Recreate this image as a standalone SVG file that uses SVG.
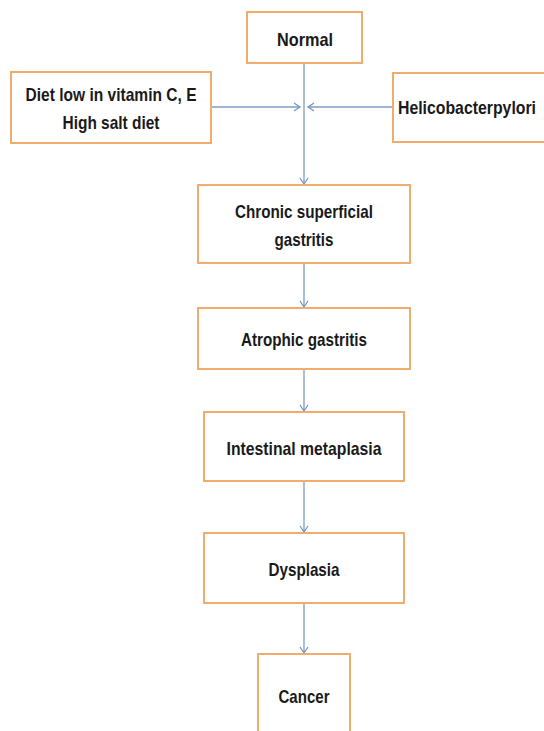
<svg xmlns="http://www.w3.org/2000/svg" width="544" height="731" viewBox="0 0 544 731">
  <defs>
    <marker id="arrow" markerWidth="10" markerHeight="10" refX="8" refY="5" orient="auto" markerUnits="userSpaceOnUse">
      <path d="M2,1 L8,5 L2,9" fill="none" stroke="#6f93bf" stroke-width="1.2"/>
    </marker>
  </defs>
  <style>
    .box { fill: #ffffff; stroke: #f0ac6c; stroke-width: 2; }
    .label { font-family: "Liberation Sans", Arial, sans-serif; font-weight: bold; font-size: 18.5px; fill: #1a1a1a; text-anchor: middle; }
    .link { stroke: #7d9cc4; stroke-width: 1.3; fill: none; marker-end: url(#arrow); }
  </style>
  <rect width="544" height="731" fill="#ffffff"/>

  <g id="connectors">
    <line class="link" x1="304" y1="63" x2="304" y2="184"/>
    <line class="link" x1="211" y1="107" x2="300" y2="107"/>
    <line class="link" x1="393" y1="107" x2="308" y2="107"/>
    <line class="link" x1="304" y1="263" x2="304" y2="307"/>
    <line class="link" x1="304" y1="369" x2="304" y2="411"/>
    <line class="link" x1="304" y1="481" x2="304" y2="532"/>
    <line class="link" x1="304" y1="603" x2="304" y2="653"/>
  </g>

  <g id="normal">
    <rect class="box" x="247" y="12" width="115" height="51"/>
    <text class="label" x="305" y="46" textLength="56" lengthAdjust="spacingAndGlyphs">Normal</text>
  </g>

  <g id="diet">
    <rect class="box" x="11" y="72" width="200" height="71"/>
    <text class="label" x="111" y="101" textLength="171" lengthAdjust="spacingAndGlyphs">Diet low in vitamin C, E</text>
    <text class="label" x="111" y="129" textLength="97" lengthAdjust="spacingAndGlyphs">High salt diet</text>
  </g>

  <g id="helicobacter">
    <rect class="box" x="393" y="73" width="160" height="69"/>
    <text class="label" x="467" y="114" textLength="138" lengthAdjust="spacingAndGlyphs">Helicobacterpylori</text>
  </g>

  <g id="chronic">
    <rect class="box" x="198" y="185" width="212" height="78"/>
    <text class="label" x="304" y="218" textLength="138" lengthAdjust="spacingAndGlyphs">Chronic superficial</text>
    <text class="label" x="304" y="246" textLength="59" lengthAdjust="spacingAndGlyphs">gastritis</text>
  </g>

  <g id="atrophic">
    <rect class="box" x="198" y="308" width="212" height="61"/>
    <text class="label" x="304" y="346" textLength="126" lengthAdjust="spacingAndGlyphs">Atrophic gastritis</text>
  </g>

  <g id="metaplasia">
    <rect class="box" x="204" y="412" width="200" height="69"/>
    <text class="label" x="304" y="455" textLength="155" lengthAdjust="spacingAndGlyphs">Intestinal metaplasia</text>
  </g>

  <g id="dysplasia">
    <rect class="box" x="204" y="533" width="200" height="70"/>
    <text class="label" x="304" y="576" textLength="71" lengthAdjust="spacingAndGlyphs">Dysplasia</text>
  </g>

  <g id="cancer">
    <rect class="box" x="258" y="654" width="92" height="84"/>
    <text class="label" x="304" y="703" textLength="51" lengthAdjust="spacingAndGlyphs">Cancer</text>
  </g>
</svg>
